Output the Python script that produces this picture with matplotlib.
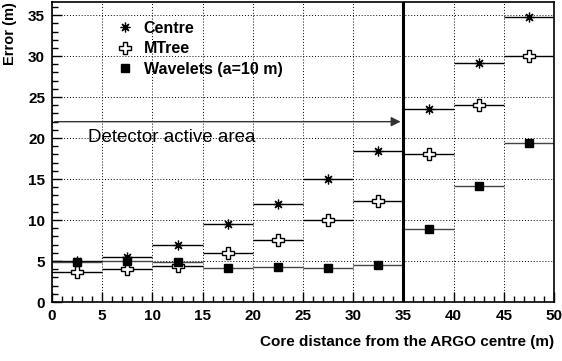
import numpy as np
import matplotlib.pyplot as plt
from matplotlib.ticker import MultipleLocator

plt.rcParams['font.family'] = ['Liberation Sans', 'DejaVu Sans']
plt.rcParams['font.weight'] = 'bold'

# bin centres (core distance, m) and half width
dist = [2.5, 7.5, 12.5, 17.5, 22.5, 27.5, 32.5, 37.5, 42.5, 47.5]
half_width = 2.5

# reconstruction error (m)
centre = [5.0, 5.5, 6.9, 9.5, 12.0, 15.0, 18.4, 23.5, 29.1, 34.8]
mtree = [3.7, 4.0, 4.4, 6.0, 7.6, 10.0, 12.35, 18.1, 24.0, 30.0]
wavelets = [4.9, 5.0, 4.9, 4.1, 4.3, 4.1, 4.5, 8.9, 14.2, 19.4]

active_edge = 35
arrow_y = 22

fig = plt.figure(figsize=(5.62, 3.61), dpi=100)
ax = fig.add_axes([52 / 562, 1 - 302 / 361, 502 / 562, 300 / 361])

# horizontal bin-width bars
ax.errorbar(dist, centre, xerr=half_width, fmt='none', ecolor='black', elinewidth=1.0, capsize=0)
ax.errorbar(dist, mtree, xerr=half_width, fmt='none', ecolor='black', elinewidth=1.0, capsize=0)
ax.errorbar(dist, wavelets, xerr=half_width, fmt='none', ecolor='#444444', elinewidth=1.0, capsize=0)

# markers
ax.plot(dist, centre, ls='none', marker=(8, 2, 0), ms=7, mec='black', mew=0.9, label='Centre')
ax.plot(dist, mtree, ls='none', marker='P', ms=8.5, mfc='white', mec='black', mew=1.0, label='MTree')
ax.plot(dist, wavelets, ls='none', marker='s', ms=6, mfc='black', mec='black', label='Wavelets (a=10 m)')

# detector edge and arrow
ax.axvline(active_edge, color='black', lw=2.2)
ax.annotate('', xy=(active_edge, arrow_y), xytext=(0, arrow_y),
            arrowprops=dict(arrowstyle='-|>', color='#333333', lw=1.0, mutation_scale=14))
ax.text(3.6, 20.1, 'Detector active area', fontsize=13.5, fontweight='normal', va='center', ha='left')

ax.set_xlim(0, 50)
ax.set_ylim(0, 36.6)
ax.xaxis.set_major_locator(MultipleLocator(5))
ax.xaxis.set_minor_locator(MultipleLocator(1))
ax.yaxis.set_major_locator(MultipleLocator(5))
ax.yaxis.set_minor_locator(MultipleLocator(1))
ax.tick_params(which='both', direction='in', top=False, right=False)
ax.tick_params(which='major', length=7, width=1, labelsize=11, pad=5)
ax.tick_params(which='minor', length=4, width=1)
ax.grid(True, which='major', ls=(0, (1, 2)), color='black', lw=0.7)
for s in ax.spines.values():
    s.set_linewidth(1.2)

ax.set_ylabel('Error (m)', fontsize=10.5, fontweight='bold', loc='top', labelpad=8)
ax.set_xlabel('Core distance from the ARGO centre (m)', fontsize=11, fontweight='bold', loc='right', labelpad=9)

ax.legend(loc='upper left', bbox_to_anchor=(0.1, 0.985), frameon=False, prop={'weight': 'bold', 'size': 11.5},
          handlelength=1.0, handletextpad=0.7, labelspacing=0.35)

fig.savefig('out.png', dpi=100)
